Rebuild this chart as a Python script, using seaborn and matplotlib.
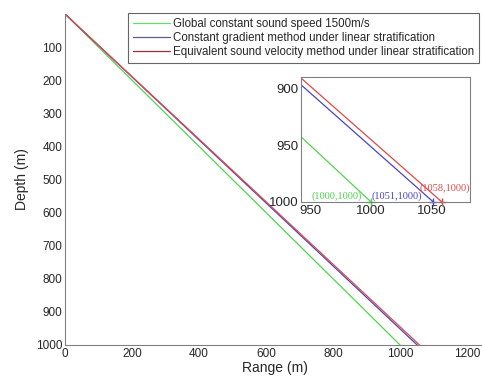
import numpy as np
import pandas as pd
import matplotlib
matplotlib.use("Agg")
import matplotlib.pyplot as plt
import seaborn as sns

# end points of each ray (range, depth), rays start at the surface (0, 0)
labels = ["Global constant sound speed 1500m/s",
          "Constant gradient method under linear stratification",
          "Equivalent sound velocity method under linear stratification"]
end_range = [1000, 1051, 1058]
end_depth = [1000, 1000, 1000]
colors = ["#4fd44f", "#4646c4", "#e04848"]
legend_colors = ["#66dd66", "#5c5c92", "#963030"]
point_text = ["(1000,1000)", "(1051,1000)", "(1058,1000)"]

rows = []
for lab, r, d in zip(labels, end_range, end_depth):
    rows.append({"Range": 0, "Depth": 0, "ray": lab})
    rows.append({"Range": r, "Depth": d, "ray": lab})
df = pd.DataFrame(rows)
pal = dict(zip(labels, colors))

sns.set_style("white")
plt.rcParams['font.family'] = ['Liberation Sans', 'DejaVu Sans']

fig = plt.figure(figsize=(4.82, 3.85), dpi=100)
ax = fig.add_axes([0.1349, 0.1039, 0.869, 0.8597])
sns.lineplot(data=df, x="Range", y="Depth", hue="ray", palette=pal,
             ax=ax, linewidth=0.9, legend=False, sort=False)
ax.set_xlim(0, 1250)
ax.set_ylim(1000, 0)
ax.set_xticks(range(0, 1201, 200))
ax.set_yticks(range(100, 1001, 100))
ax.set_xlabel("Range (m)", fontsize=10, color="#262626", labelpad=1)
ax.set_ylabel("Depth (m)", fontsize=10, color="#262626", labelpad=5)
ax.tick_params(direction="in", length=3, labelsize=8.5, colors="#262626",
               color="#808080", pad=2)
for s in ["top", "right"]:
    ax.spines[s].set_visible(False)
for s in ["left", "bottom"]:
    ax.spines[s].set_color("#808080")
    ax.spines[s].set_linewidth(0.8)

handles = [plt.Line2D([], [], color=c, lw=0.9) for c in legend_colors]
leg = fig.legend(handles, labels, loc="upper left",
                 bbox_to_anchor=(128 / 482, 1 - 13 / 385), fontsize=8.3,
                 frameon=True, fancybox=False, edgecolor="#404040",
                 handlelength=3.2, handletextpad=0.3, borderpad=0.4,
                 labelspacing=0.2, borderaxespad=0)
leg.get_frame().set_linewidth(0.8)

# zoomed inset near the sea floor
ins = fig.add_axes([301 / 482, 1 - 202 / 385, 169 / 482, 125 / 385])
sns.lineplot(data=df, x="Range", y="Depth", hue="ray", palette=pal,
             ax=ins, linewidth=0.9, legend=False, sort=False)
for r, d, c in zip(end_range, end_depth, colors):
    ins.plot(r, d, marker="+", color=c, markersize=6, mew=1, clip_on=False)
offsets = [(-6.5, 0.5), (-8, 0.5), (20, 6.5)]
for (r, d, c, t), (dx, dy) in zip(zip(end_range, end_depth, colors, point_text), offsets):
    ins.annotate(t, (r, d), xytext=(dx, dy), textcoords="offset points",
                 ha="right", va="bottom", fontsize=7.5, color=c,
                 family=["Liberation Serif", "DejaVu Serif"])
ins.set_xlim(942.6, 1081)
ins.set_ylim(1000, 890)
ins.set_xticks([950, 1000, 1050])
ins.set_yticks([900, 950, 1000])
ins.set_xlabel("")
ins.set_ylabel("")
ins.tick_params(direction="in", length=3, labelsize=9.5, colors="#262626",
                color="#808080", pad=2)
for s in ins.spines.values():
    s.set_color("#808080")
    s.set_linewidth(0.8)

fig.savefig("out.png", dpi=100)
